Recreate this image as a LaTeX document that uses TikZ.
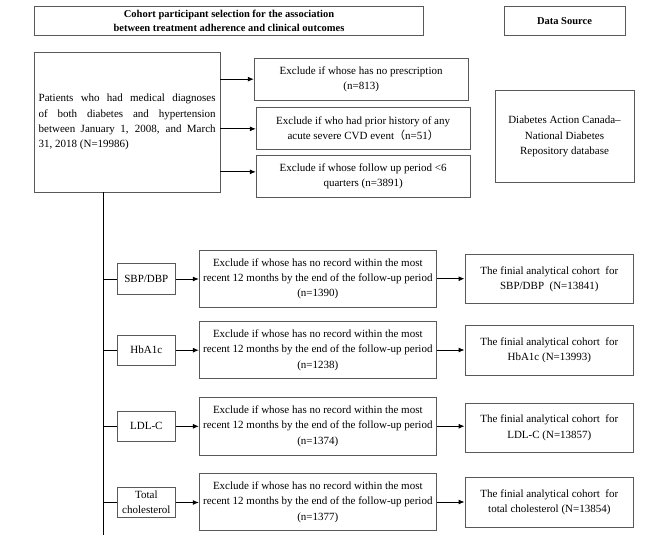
\documentclass[tikz,border=0pt]{standalone}
\usepackage{fontspec}
\setmainfont{Liberation Serif}
\newfontfamily\cjk{Noto Sans CJK SC}
\usetikzlibrary{arrows.meta}
\begin{document}
\begin{tikzpicture}[x=1pt,y=-1pt,
  box/.style={draw=black!65, line width=0.9pt, inner sep=0pt, align=center,
    font=\fontsize{11}{15.3}\selectfont},
  hbox/.style={box, font=\bfseries\fontsize{10.5}{14.3}\selectfont},
  lab/.style={box, minimum width=58.7pt, minimum height=30.3pt},
  exc/.style={box, minimum width=237pt, minimum height=57.5pt},
  fin/.style={box, minimum width=168.7pt, minimum height=49.5pt},
  top/.style={box, minimum width=213.7pt, minimum height=41.9pt},
  arr/.style={line width=0.9pt, -{Latex[length=6pt,width=5pt]}},
  ln/.style={line width=0.9pt}]
\useasboundingbox[fill=white] (0,0) rectangle (666,535);

% header boxes
\node[hbox, minimum width=389.4pt, minimum height=29.7pt] (title) at (229,20.85)
  {Cohort participant selection for the association\\between treatment adherence and clinical outcomes};
\node[hbox, minimum width=121pt, minimum height=29.7pt] (ds) at (564.5,20.85) {Data Source};

% patients box
\node[box, minimum width=185.7pt, minimum height=139.7pt, text width=177pt, align=justify] (pat) at (127.15,122.15)
  {Patients who had medical diagnoses\linebreak of both diabetes and hypertension\linebreak between January 1, 2008, and March\linebreak 31, 2018 (N=19986)};

% exclusions
\node[top] (ex1) at (361.15,79.15) {Exclude if whose has no prescription\\(n=813)};
\node[top] (ex2) at (363.15,128.85) {Exclude if who had prior history of any\\acute severe CVD event{\cjk （}n=51{\cjk ）}};
\node[top] (ex3) at (363.15,176.15) {Exclude if whose follow up period <6\\quarters (n=3891)};

% data source
\node[box, minimum width=139pt, minimum height=91.6pt] (dac) at (564.5,136.5)
  {Diabetes Action Canada--\\National Diabetes\\Repository database};

\draw[arr] (pat.east |- ex1.west) -- (ex1.west);
\draw[arr] (pat.east |- ex2.west) -- (ex2.west);
\path ([yshift=4.3pt]ex3.west) coordinate (a3);
\draw[arr] (pat.east |- a3) -- (a3);

% trunk
\coordinate (t0) at (103.3,192);
\coordinate (t1) at (103.3,535);
\draw[ln] (t0) -- (t1);

% rows
\node[lab] (l1) at (146.35,279) {SBP/DBP};
\node[exc] (e1) at (317.8,278.7) {Exclude if whose has no record within the most\\recent 12 months by the end of the follow-up period\\(n=1390)};
\node[fin] (f1) at (549.35,279) {The finial analytical cohort~ for\\SBP/DBP~ (N=13841)};

\node[lab] (l2) at (146.35,350.2) {HbA1c};
\node[exc] (e2) at (317.8,350) {Exclude if whose has no record within the most\\recent 12 months by the end of the follow-up period\\(n=1238)};
\node[fin] (f2) at (549.35,350.3) {The finial analytical cohort~ for\\HbA1c (N=13993)};

\node[lab] (l3) at (146.35,426.3) {LDL-C};
\node[exc] (e3) at (317.8,426.2) {Exclude if whose has no record within the most\\recent 12 months by the end of the follow-up period\\(n=1374)};
\node[fin] (f3) at (549.35,427.8) {The finial analytical cohort~ for\\LDL-C (N=13857)};

\node[lab] (l4) at (146.35,502.5) {Total\\cholesterol};
\node[exc] (e4) at (317.8,502) {Exclude if whose has no record within the most\\recent 12 months by the end of the follow-up period\\(n=1377)};
\node[fin] (f4) at (549.35,502.2) {The finial analytical cohort~ for\\total cholesterol (N=13854)};

\foreach \i in {1,2,3,4}{
  \draw[ln] (t0 |- l\i.west) -- (l\i.west);
  \draw[arr] (l\i.east) -- (e\i.west |- l\i.east);
  \draw[arr] (e\i.east) -- (f\i.west |- e\i.east);
}
\end{tikzpicture}
\end{document}
